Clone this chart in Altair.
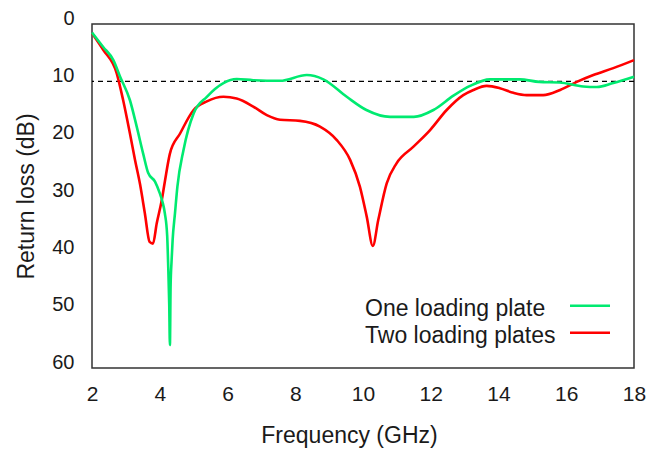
import altair as alt
import pandas as pd

# ---- data ----
SERIES = ["One loading plate", "Two loading plates"]
COLORS = ["#00ea70", "#ff0000"]

one_f = [2.0, 2.33, 2.63, 2.83, 3.12, 3.32, 3.51, 3.66, 3.86, 4.0, 4.08, 4.15, 4.22,
         4.25, 4.28, 4.30, 4.32, 4.35, 4.38, 4.45, 4.52, 4.70, 5.0, 5.39, 5.88, 6.27,
         6.76, 7.55, 8.34, 8.83, 9.52, 10.1, 10.8, 11.5, 12.08, 12.67, 13.16, 13.75,
         14.63, 15.2, 15.8, 16.5, 16.9, 17.39, 18.0]
one_db = [1.5, 4.0, 6.3, 9.2, 13.3, 17.9, 22.6, 26.0, 27.5, 29.5, 31.0, 33.0, 37.0,
          42.3, 49.0, 56.0, 45.8, 41.2, 37.7, 33.0, 28.4, 22.0, 15.6, 12.7, 10.3, 9.6,
          9.8, 9.9, 8.9, 9.65, 12.7, 15.0, 16.2, 16.2, 15.0, 12.5, 10.8, 9.65,
          9.65, 10.1, 10.2, 10.9, 11.0, 10.3, 9.2]

two_f = [2.0, 2.33, 2.73, 2.92, 3.12, 3.27, 3.42, 3.56, 3.70, 3.80, 3.91, 4.06, 4.15,
         4.30, 4.6, 5.0, 5.39, 5.88, 6.27, 6.76, 7.16, 7.55, 8.14, 8.73, 9.22, 9.62,
         9.91, 10.11, 10.29, 10.45, 10.70, 10.99, 11.49, 11.98, 12.47, 12.96, 13.26,
         13.65, 14.04, 14.44, 14.83, 15.32, 15.82, 16.31, 16.80, 17.39, 18.0]
two_db = [1.6, 4.5, 8.6, 13.3, 19.1, 23.7, 28.0, 33.0, 38.0, 38.3, 34.8, 30.7, 27.5,
          22.6, 19.1, 15.0, 13.5, 12.7, 13.0, 14.4, 15.9, 16.7, 16.9, 17.9, 20.2, 23.7,
          28.4, 33.6, 38.7, 34.2, 27.8, 24.3, 21.4, 18.5, 15.0, 12.4, 11.5,
          10.8, 11.2, 12.0, 12.4, 12.4, 11.5, 10.1, 8.9, 7.7, 6.3]

THRESHOLD_DB = 10
X_TICKS = [2, 4, 6, 8, 10, 12, 14, 16, 18]
Y_TICKS = [0, 10, 20, 30, 40, 50, 60]

FONT = "Liberation Sans"
TXT = "#1a1a1a"

df_one = pd.DataFrame({"f": one_f, "db": one_db, "series": SERIES[0]})
df_two = pd.DataFrame({"f": two_f, "db": two_db, "series": SERIES[1]})

xscale = alt.Scale(domain=[2, 18], nice=False, zero=False)
yscale = alt.Scale(domain=[0, 60], reverse=True, nice=False)
cscale = alt.Scale(domain=SERIES, range=COLORS)

xaxis = alt.Axis(values=X_TICKS, title="Frequency (GHz)", domain=False, ticks=False,
                 tickSize=0, grid=False, labelPadding=15, labelFontSize=21,
                 labelFlush=False, labelOverlap=False,
                 labelFont=FONT, labelColor=TXT, titleFont=FONT, titleFontSize=23,
                 titleFontWeight="normal", titleColor=TXT, titleX=257, titleY=74,
                 titleBaseline="alphabetic", titleAnchor="start", titleAlign="center")
yaxis = alt.Axis(values=Y_TICKS, title="Return loss (dB)", domain=False, ticks=False,
                 tickSize=0, grid=False, labelPadding=18, labelOffset=-6,
                 labelFlush=False, labelOverlap=False,
                 labelFontSize=20, labelFont=FONT, labelColor=TXT, titleFont=FONT,
                 titleFontSize=23, titleFontWeight="normal", titleColor=TXT,
                 titleX=-66, titleY=172, titleAngle=270, titleBaseline="middle",
                 titleAlign="center", titleAnchor="start")

def line_layer(df):
    return alt.Chart(df).mark_line(strokeWidth=2.6, interpolate="monotone").encode(
        x=alt.X("f:Q", scale=xscale, axis=xaxis),
        y=alt.Y("db:Q", scale=yscale, axis=yaxis),
        color=alt.Color("series:N", scale=cscale, legend=None),
    )

threshold = alt.Chart(pd.DataFrame({"t": [THRESHOLD_DB]})).mark_rule(
    color="black", strokeDash=[5, 4], strokeWidth=1.4
).encode(y=alt.Y("t:Q", scale=yscale, axis=yaxis))

# manual gnuplot-style legend (text left, line sample right)
leg_df = pd.DataFrame({"series": SERIES})
leg_text_one = alt.Chart(leg_df.iloc[[0]]).mark_text(
    align="left", baseline="middle", font=FONT, fontSize=23, color=TXT
).encode(text="series:N", x=alt.value(273), y=alt.value(284.5))
leg_text_two = alt.Chart(leg_df.iloc[[1]]).mark_text(
    align="left", baseline="middle", font=FONT, fontSize=23, color=TXT
).encode(text="series:N", x=alt.value(273), y=alt.value(311.5))
leg_rule_one = alt.Chart(leg_df.iloc[[0]]).mark_rule(strokeWidth=2.6).encode(
    x=alt.value(478), x2=alt.value(518), y=alt.value(281.7),
    color=alt.Color("series:N", scale=cscale, legend=None))
leg_rule_two = alt.Chart(leg_df.iloc[[1]]).mark_rule(strokeWidth=2.6).encode(
    x=alt.value(478), x2=alt.value(518), y=alt.value(308.7),
    color=alt.Color("series:N", scale=cscale, legend=None))

chart = alt.layer(
    threshold, line_layer(df_two), line_layer(df_one),
    leg_text_one, leg_text_two, leg_rule_one, leg_rule_two
).properties(
    width=542, height=344,
    autosize=alt.AutoSizeParams(type="none"),
    padding={"left": 84, "top": 16, "right": 18, "bottom": 84},
    background="white",
).configure_view(stroke="#333333", strokeWidth=1.5)

chart.save("out.html", embed_options={"renderer": "svg", "actions": False})
